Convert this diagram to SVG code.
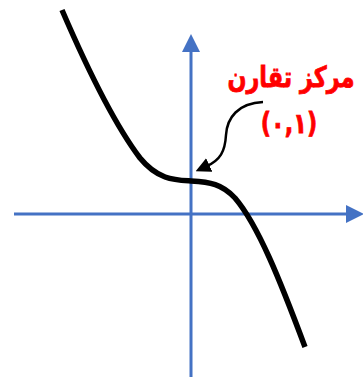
<svg xmlns="http://www.w3.org/2000/svg" width="363" height="377" viewBox="0 0 363 377">
<style>
.axis{stroke:#4472C4;stroke-width:3;fill:none}
.curve{stroke:#000;stroke-width:5.5;fill:none;stroke-linecap:butt}
.lbl{font-family:"DejaVu Sans",sans-serif;font-weight:bold;fill:#FF0000;text-anchor:middle;stroke:#FF0000;stroke-width:0.8}
.conn{stroke:#000;stroke-width:2.5;fill:none}
</style>
<defs>
<marker id="axarrow" markerWidth="6" markerHeight="6" refX="0" refY="3" orient="auto" markerUnits="strokeWidth">
<path d="M0,0 L6,3 L0,6 Z" fill="#4472C4"/>
</marker>
<marker id="blk" markerWidth="6" markerHeight="6" refX="1" refY="3" orient="auto" markerUnits="strokeWidth">
<path d="M0,0 L6,3 L0,6 Z" fill="#000"/>
</marker>
</defs>
<g id="axes">
<line id="x-axis" class="axis" x1="14" y1="214" x2="346" y2="214" marker-end="url(#axarrow)"/>
<line id="y-axis" class="axis" x1="191" y1="377" x2="191" y2="52" marker-end="url(#axarrow)"/>
</g>
<g id="graph">
<path class="curve" d="M62,10 C90,75 115,125 140,158 C158,180 175,180 191,181 C210,182 222,184 235,198 C258,225 280,280 305,347"/>
</g>
<g id="label">
<text class="lbl" transform="translate(291,87) scale(0.77,1)" font-size="29">مرکز تقارن</text>
<text class="lbl" transform="translate(289,133) scale(0.8,1)" font-size="28" direction="ltr" unicode-bidi="bidi-override">(۰,۱)</text>
</g>
<g id="connectors">
<path class="conn" d="M263,102 C238,103 227,118 226,135 C225,152 220,160 207,166" marker-end="url(#blk)"/>
</g>
</svg>
